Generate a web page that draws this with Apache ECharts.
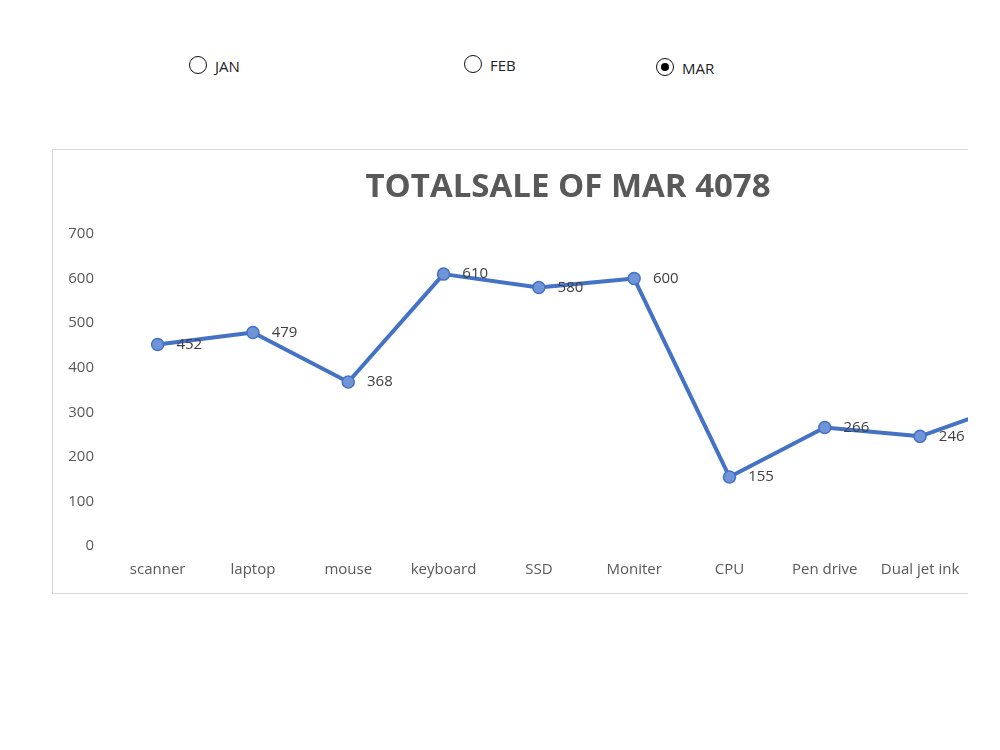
<!DOCTYPE html>
<html>
<head>
<meta charset="utf-8">
<script src="https://cdn.jsdelivr.net/npm/echarts@6/dist/echarts.min.js"></script>
<style>
  body { margin:0; background:#fff; width:1000px; height:750px; position:relative; overflow:hidden; font-family:"Open Sans", sans-serif; }
  .radio { position:absolute; font-size:15px; color:#222; line-height:18px; }
  .radio i { position:absolute; left:-26px; top:-1px; width:18px; height:18px; border:1.4px solid #111; border-radius:50%; box-sizing:border-box; }
  .radio.on i:after { content:''; position:absolute; left:3.5px; top:3.5px; width:8px; height:8px; border-radius:50%; background:#000; }
  #wrap { position:absolute; left:52px; top:149px; width:915px; height:443px; border:1px solid #d9d9d9; border-right:none; overflow:hidden; }
  #main { width:1100px; height:443px; }
</style>
</head>
<body>
<div class="radio" style="left:215px;top:57px"><i></i>JAN</div>
<div class="radio" style="left:490px;top:56px"><i></i>FEB</div>
<div class="radio on" style="left:682px;top:59px"><i></i>MAR</div>
<div id="wrap"><div id="main"></div></div>
<script>
var categories = ['scanner','laptop','mouse','keyboard','SSD','Moniter','CPU','Pen drive','Dual jet ink','Printer'];
var marValues = [452, 479, 368, 610, 580, 600, 155, 266, 246, 322];
var month = 'MAR';
var total = 0;
marValues.forEach(function(v){ total += v; });

var myChart = echarts.init(document.getElementById('main'));
var option = {
  animation: false,
  graphic: [{
    type: 'text',
    x: 515, y: 38,
    style: {
      text: 'TOTALSALE OF ' + month + ' ' + total,
      font: 'bold 33px "Open Sans"',
      fill: '#595959',
      align: 'center',
      verticalAlign: 'middle'
    }
  }],
  grid: { left: 57, top: 84, width: 953, height: 312 },
  xAxis: {
    type: 'category',
    data: categories,
    axisLine: { show: false },
    axisTick: { show: false },
    axisLabel: { interval: 0, color: '#595959', fontSize: 15, margin: 16, fontFamily: 'Open Sans' }
  },
  yAxis: {
    type: 'value',
    min: 0, max: 700, interval: 100,
    splitLine: { show: false },
    axisLine: { show: false },
    axisTick: { show: false },
    axisLabel: { color: '#595959', fontSize: 15, margin: 16, fontFamily: 'Open Sans' }
  },
  series: [{
    type: 'line',
    data: marValues,
    symbol: 'circle',
    symbolSize: 12,
    lineStyle: { color: '#4472C4', width: 4 },
    itemStyle: { color: '#7094d8', borderColor: '#4472C4', borderWidth: 1.5 },
    label: { show: true, position: 'right', distance: 12, color: '#404040', fontSize: 15, fontFamily: 'Open Sans' }
  }]
};
option && myChart.setOption(option);
</script>
</body>
</html>
